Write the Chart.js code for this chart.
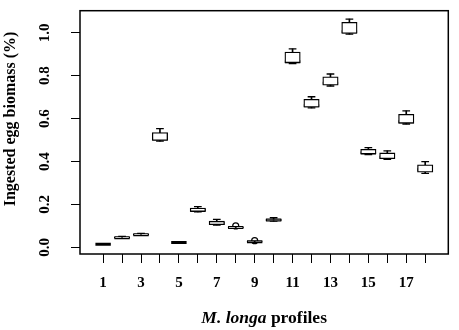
<!DOCTYPE html>
<html>
<head>
<meta charset="utf-8">
<script src="https://cdn.jsdelivr.net/npm/chart.js@4/dist/chart.umd.min.js"></script>
<style>
  body { margin: 0; background: #fff; }
  #wrap { width: 459px; height: 330px; position: relative; }
</style>
</head>
<body>
<div id="wrap"><canvas id="boxChart"></canvas></div>
<script>
// M. longa profiles and box statistics
const profiles = [1, 2, 3, 4, 5, 6, 7, 8, 9, 10, 11, 12, 13, 14, 15, 16, 17, 18];
const xTickLabels = ['1', '', '3', '', '5', '', '7', '', '9', '', '11', '', '13', '', '15', '', '17', ''];

const minVals    = [0.015, 0.042, 0.056, 0.495, 0.023, 0.165, 0.104, 0.091, 0.024, 0.122, 0.857, 0.650, 0.752, 0.994, 0.432, 0.410, 0.575, 0.345];
const q1Vals     = [0.015, 0.043, 0.057, 0.498, 0.023, 0.167, 0.106, 0.092, 0.025, 0.124, 0.860, 0.653, 0.756, 0.997, 0.435, 0.413, 0.578, 0.350];
const medianVals = [0.015, 0.045, 0.059, 0.505, 0.023, 0.172, 0.111, 0.093, 0.026, 0.127, 0.865, 0.660, 0.765, 1.005, 0.440, 0.420, 0.585, 0.362];
const q3Vals     = [0.015, 0.048, 0.062, 0.535, 0.023, 0.183, 0.122, 0.094, 0.027, 0.131, 0.910, 0.690, 0.795, 1.049, 0.457, 0.440, 0.620, 0.385];
const maxVals    = [0.015, 0.051, 0.065, 0.553, 0.023, 0.190, 0.130, 0.095, 0.028, 0.138, 0.925, 0.702, 0.808, 1.064, 0.465, 0.450, 0.636, 0.400];

const outlierProfiles = [8, 9];
const outlierValues   = [0.100, 0.031];

const yTicks = [0.0, 0.2, 0.4, 0.6, 0.8, 1.0];
const yTickLabels = ['0.0', '0.2', '0.4', '0.6', '0.8', '1.0'];

const FONT = '"Liberation Serif", "Times New Roman", serif';
const BOX_W = 15.4; // box width in px

// Frame, y tick labels and axis titles
const decorPlugin = {
    id: 'decor',
    afterDraw(chart) {
        const ctx = chart.ctx;
        const area = chart.chartArea;
        const yScale = chart.scales.y;

        ctx.save();
        ctx.strokeStyle = '#000';
        ctx.lineWidth = 1.5;
        ctx.strokeRect(area.left, area.top, area.right - area.left, area.bottom - area.top);

        // y tick labels, rotated like R's las=0
        ctx.fillStyle = '#000';
        ctx.font = 'bold 15px ' + FONT;
        ctx.textAlign = 'center';
        ctx.textBaseline = 'middle';
        yTicks.forEach((v, i) => {
            ctx.save();
            ctx.translate(45, yScale.getPixelForValue(v));
            ctx.rotate(-Math.PI / 2);
            ctx.fillText(yTickLabels[i], 0, 0);
            ctx.restore();
        });

        // y title
        ctx.save();
        ctx.translate(11, 119);
        ctx.rotate(-Math.PI / 2);
        ctx.font = 'bold 16px ' + FONT;
        ctx.fillText('Ingested egg biomass (%)', 0, 0);
        ctx.restore();

        // x title: italic species name + plain word
        const partA = 'M. longa';
        const partB = ' profiles';
        ctx.font = 'italic bold 17.5px ' + FONT;
        const wA = ctx.measureText(partA).width;
        ctx.font = 'bold 17.5px ' + FONT;
        const wB = ctx.measureText(partB).width;
        const cx = (area.left + area.right) / 2;
        let x0 = cx - (wA + wB) / 2;
        ctx.textAlign = 'left';
        ctx.font = 'italic bold 17.5px ' + FONT;
        ctx.fillText(partA, x0, 318);
        ctx.font = 'bold 17.5px ' + FONT;
        ctx.fillText(partB, x0 + wA, 318);
        ctx.restore();
    }
};

const whiskerStyle = {
    type: 'bar',
    backgroundColor: '#000',
    borderWidth: 0,
    barThickness: 1,
    grouped: false
};

new Chart(document.getElementById('boxChart'), {
    type: 'bar',
    data: {
        datasets: [
            Object.assign({
                label: 'upper whisker',
                data: profiles.map((p, i) => ({ x: p, y: [q3Vals[i], maxVals[i]] }))
            }, whiskerStyle),
            Object.assign({
                label: 'lower whisker',
                data: profiles.map((p, i) => ({ x: p, y: [minVals[i], q1Vals[i]] }))
            }, whiskerStyle),
            {
                type: 'bar',
                label: 'box',
                data: profiles.map((p, i) => ({ x: p, y: [q1Vals[i], q3Vals[i]] })),
                backgroundColor: '#fff',
                borderColor: '#000',
                borderWidth: 1.3,
                borderSkipped: false,
                barThickness: BOX_W,
                grouped: false
            },
            {
                type: 'scatter',
                label: 'median',
                data: profiles.map((p, i) => ({ x: p, y: medianVals[i] })),
                pointStyle: 'line',
                pointRadius: BOX_W / 2,
                borderColor: '#000',
                pointBorderWidth: 3,
                showLine: false
            },
            {
                type: 'scatter',
                label: 'caps',
                data: profiles.map((p, i) => ({ x: p, y: maxVals[i] }))
                    .concat(profiles.map((p, i) => ({ x: p, y: minVals[i] }))),
                pointStyle: 'line',
                pointRadius: BOX_W / 4,
                borderColor: '#000',
                pointBorderWidth: 1.3,
                showLine: false
            },
            {
                type: 'scatter',
                label: 'outliers',
                data: outlierProfiles.map((p, i) => ({ x: p, y: outlierValues[i] })),
                pointStyle: 'circle',
                pointRadius: 3,
                backgroundColor: 'rgba(0,0,0,0)',
                borderColor: '#000',
                pointBorderWidth: 1.2,
                showLine: false
            }
        ]
    },
    options: {
        responsive: true,
        maintainAspectRatio: false,
        animation: false,
        events: [],
        layout: { padding: { top: 4, right: 3, left: 0, bottom: 0 } },
        plugins: {
            legend: { display: false },
            tooltip: { enabled: false }
        },
        scales: {
            x: {
                type: 'linear',
                offset: false,
                min: -0.22,
                max: 19.22,
                afterBuildTicks: scale => { scale.ticks = profiles.map(v => ({ value: v })); },
                afterFit: scale => { scale.height = 76; },
                border: { display: false },
                grid: {
                    offset: false,
                    drawOnChartArea: false,
                    drawTicks: true,
                    tickLength: 9,
                    tickColor: '#000',
                    tickWidth: 1
                },
                ticks: {
                    autoSkip: false,
                    maxRotation: 0,
                    padding: 11,
                    color: '#000',
                    font: { family: FONT, size: 15, weight: 'bold' },
                    callback: value => xTickLabels[profiles.indexOf(value)]
                }
            },
            y: {
                min: -0.031,
                max: 1.103,
                afterBuildTicks: scale => { scale.ticks = yTicks.map(v => ({ value: v })); },
                afterFit: scale => { scale.width = 80; },
                border: { display: false },
                grid: {
                    drawOnChartArea: false,
                    drawTicks: true,
                    tickLength: 9,
                    tickColor: '#000',
                    tickWidth: 1
                },
                ticks: { display: false }
            }
        }
    },
    plugins: [decorPlugin]
});
</script>
</body>
</html>
